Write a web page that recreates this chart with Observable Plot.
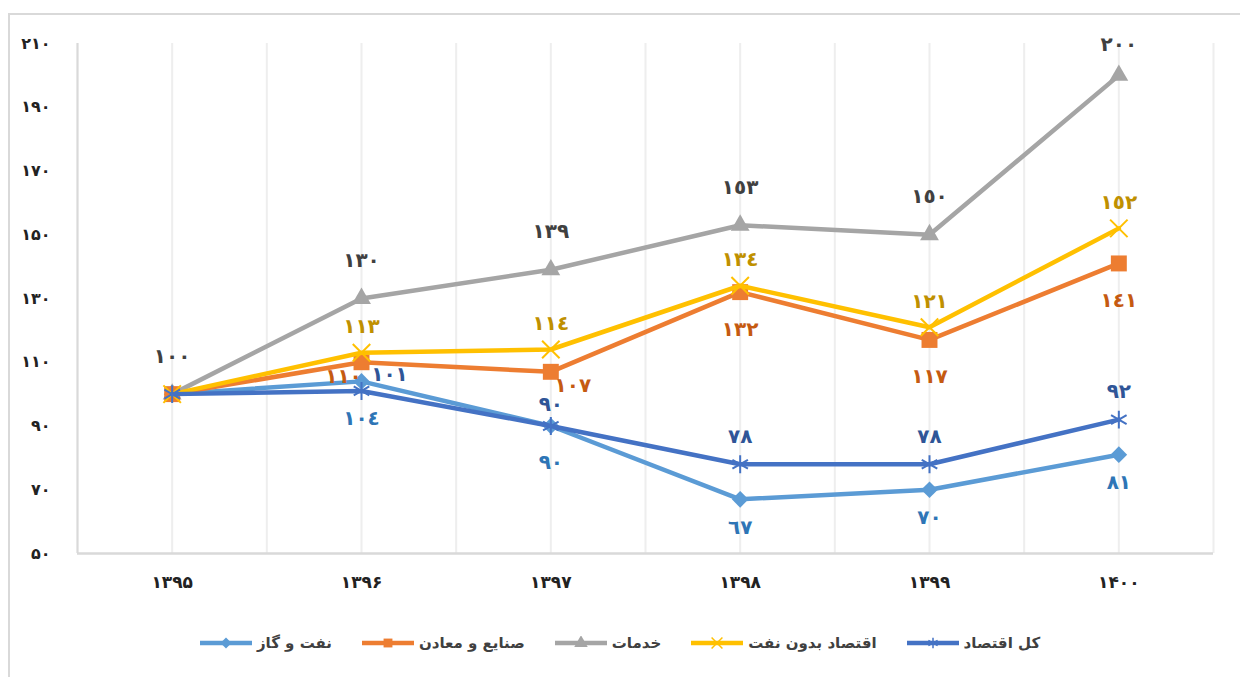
<!DOCTYPE html>
<html>
<head>
<meta charset="utf-8">
<script src="https://cdn.jsdelivr.net/npm/d3@7"></script>
<script src="https://cdn.jsdelivr.net/npm/@observablehq/plot@0.6"></script>
<style>
  html, body { margin: 0; padding: 0; background: #fff; width: 1240px; height: 677px; overflow: hidden; }
  body { font-family: "DejaVu Sans", sans-serif; position: relative; }
  #frame { position: absolute; left: 8px; top: 13px; width: 1300px; height: 700px; border-left: 2px solid #d9d9d9; border-top: 2px solid #d9d9d9; pointer-events: none; }
  #chart { position: absolute; left: 0; top: 0; }
  #legend { position: absolute; left: 0; top: 620px; width: 1240px; height: 46px; display: flex; direction: rtl; justify-content: center; align-items: center; gap: 30px; font-size: 15px; font-weight: bold; color: #404040; }
  .item { display: flex; align-items: center; gap: 5px; }
</style>
</head>
<body>
<div id="chart"></div>
<div id="legend"></div>
<div id="frame"></div>
<script>
// ---- data ----
const years = ["۱۳۹۵", "۱۳۹۶", "۱۳۹۷", "۱۳۹۸", "۱۳۹۹", "۱۴۰۰"];
const seriesNames = ["نفت و گاز", "صنایع و معادن", "خدمات", "اقتصاد بدون نفت", "کل اقتصاد"];
const oilGas   = [100, 104, 90, 67, 70, 81];
const industry = [100, 110, 107, 132, 117, 141];
const services = [100, 130, 139, 153, 150, 200];
const nonOil   = [100, 113, 114, 134, 121, 152];
const total    = [100, 101, 90, 78, 78, 92];
const yTicks   = [50, 70, 90, 110, 130, 150, 170, 190, 210];

// ---- styling ----
const fa = s => String(s).replace(/\d/g, d => "۰۱۲۳۴۵۶۷۸۹"[d]);
const ar = s => String(s).replace(/\d/g, d => "٠١٢٣٤٥٦٧٨٩"[d]);

const styles = [
  {name: seriesNames[0], values: oilGas,   color: "#5B9BD5", label: "#2E75B6", symbol: "diamond2", r: 7.5, filled: true,  dy: 28, first: false},
  {name: seriesNames[1], values: industry, color: "#ED7D31", label: "#C55A11", symbol: "square",   r: 9,   filled: true,  dy: 37, first: false},
  {name: seriesNames[2], values: services, color: "#A5A5A5", label: "#404040", symbol: "triangle", r: 7,   filled: true,  dy: -38, first: true},
  {name: seriesNames[3], values: nonOil,   color: "#FFC000", label: "#BF9000", symbol: "times",    r: 8,   filled: false, dy: -26, first: false},
  {name: seriesNames[4], values: total,    color: "#4472C4", label: "#2F5597", symbol: "asterisk", r: 8.5, filled: false, dy: -28, first: false}
];
// label placement exceptions: series index -> point index -> offset
const labelExceptions = {
  0: {1: {dx: 0, dy: 37}, 2: {dx: 0, dy: 37}},
  1: {1: {dx: -18, dy: 14}, 2: {dx: 22, dy: 14}},
  2: {5: {dx: 0, dy: -31}},
  4: {1: {dx: 28, dy: -16}, 2: {dx: 0, dy: -21}}
};
const drawOrder = [2, 0, 1, 3, 4];

const marks = [];
const gridPos = d3.range(-0.5, years.length, 0.5);
marks.push(Plot.ruleX(gridPos, {stroke: "#eeeeee", strokeWidth: 2}));
marks.push(Plot.ruleX([-0.5], {stroke: "#d9d9d9", strokeWidth: 2}));
marks.push(Plot.ruleY([50], {stroke: "#d9d9d9", strokeWidth: 2.5}));
marks.push(Plot.axisY(yTicks, {tickSize: 0, tickPadding: 27, tickFormat: fa, fontSize: 16, fontWeight: "bold", fill: "#222", label: null}));
marks.push(Plot.axisX(d3.range(years.length), {tickSize: 0, tickPadding: 22, tickFormat: i => years[i], fontSize: 17, fontWeight: "bold", fill: "#222", label: null}));

for (const si of drawOrder) {
  const s = styles[si];
  const data = s.values.map((v, i) => ({i, v}));
  marks.push(Plot.line(data, {x: "i", y: "v", stroke: s.color, strokeWidth: 4.5, strokeLinejoin: "round", strokeLinecap: "round"}));
  marks.push(Plot.dot(data, s.filled
    ? {x: "i", y: "v", symbol: s.symbol, r: s.r, fill: s.color, stroke: "none"}
    : {x: "i", y: "v", symbol: s.symbol, r: s.r, fill: "none", stroke: s.color, strokeWidth: 2}));
}
for (const si of drawOrder) {
  const s = styles[si];
  s.values.forEach((v, i) => {
    if (i === 0 && !s.first) return;
    const ex = (labelExceptions[si] || {})[i];
    marks.push(Plot.text([{i, v}], {
      x: "i", y: "v", text: d => ar(d.v),
      dx: ex ? ex.dx : 0, dy: ex ? ex.dy : s.dy,
      fill: s.label, fontSize: 20, fontWeight: "bold",
      fontFamily: "DejaVu Sans"
    }));
  });
}

const chart = Plot.plot({
  width: 1240, height: 620,
  marginLeft: 77, marginRight: 27, marginTop: 43, marginBottom: 67,
  style: {fontFamily: "DejaVu Sans", background: "transparent"},
  x: {type: "linear", domain: [-0.5, years.length - 0.5], label: null},
  y: {domain: [50, 210], label: null},
  marks
});
document.getElementById("chart").appendChild(chart);

// legend
const legend = d3.select("#legend");
for (const si of [4, 3, 2, 1, 0]) {
  const s = styles[si];
  const item = legend.append("div").attr("class", "item");
  item.append("span").text(s.name);
  const sw = item.append("svg").attr("width", 52).attr("height", 14);
  sw.append("line").attr("x1", 0).attr("x2", 52).attr("y1", 7).attr("y2", 7).attr("stroke", s.color).attr("stroke-width", 4.5);
  const symMap = {diamond2: d3.symbolDiamond2, square: d3.symbolSquare, triangle: d3.symbolTriangle, times: d3.symbolTimes, asterisk: d3.symbolAsterisk};
  const p = sw.append("path").attr("transform", "translate(26,7)").attr("d", d3.symbol(symMap[s.symbol], Math.PI * 25)());
  if (s.filled) p.attr("fill", s.color); else p.attr("fill", "none").attr("stroke", s.color).attr("stroke-width", 1.5);
}
</script>
</body>
</html>
